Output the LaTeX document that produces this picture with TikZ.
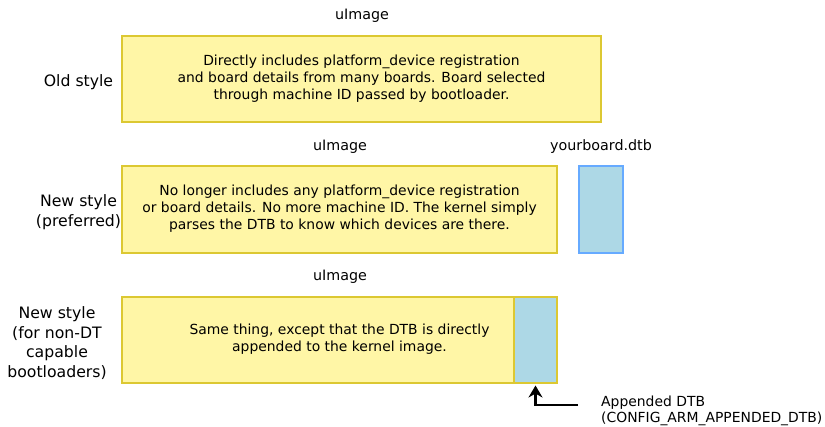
\documentclass[tikz,border=0pt]{standalone}
\usepackage{fontspec}
\setmainfont{DejaVu Sans}
\usetikzlibrary{arrows.meta}
\definecolor{yfill}{HTML}{FFF6A6}
\definecolor{ydraw}{HTML}{DCC832}
\definecolor{bfill}{HTML}{ADD8E6}
\definecolor{bdraw}{HTML}{66AAFF}
\newcommand\boxlines[2][-2pt]{\raisebox{#1}{\begin{tabular}{@{}c@{}}#2\end{tabular}}}
\begin{document}
\begin{tikzpicture}[x=1pt,y=-1pt,
  ybox/.style={draw=ydraw,fill=yfill,line width=2pt,inner sep=0pt,align=center,
    font=\fontsize{13.9}{17}\selectfont},
  bbox/.style={draw=bdraw,fill=bfill,line width=2pt,inner sep=0pt},
  ablue/.style={draw=ydraw,fill=bfill,line width=2pt,inner sep=0pt},
  side/.style={align=center,inner sep=0pt,font=\fontsize{15.7}{19.8}\selectfont},
  captext/.style={inner sep=0pt,font=\fontsize{14.3}{17}\selectfont},
  note/.style={align=left,inner sep=0pt,font=\fontsize{13.9}{16.5}\selectfont},
  conn/.style={line width=2.2pt,-{Stealth[length=12pt,width=14pt,inset=4pt]}}]
\useasboundingbox (0,0) rectangle (825,426);
% captions
\node[captext] (u1) at (362,16) {uImage};
\node[captext] (u2) at (340,147) {uImage};
\node[captext] (dtbname) at (601,147) {yourboard.dtb};
\node[captext] (u3) at (340,277) {uImage};
% side labels
\node[side] (l1) at (78.5,82) {Old style};
\node[side] (l2) at (78.5,212) {New style\\(preferred)};
\node[side] (l3) at (57,343) {New style\\(for non-DT\\capable\\bootloaders)};
% boxes
\node[ybox,minimum width=479pt,minimum height=86pt] (old) at (361.5,79)
  {\boxlines{Directly includes platform\_device registration\\and board details from many boards. Board selected\\through machine ID passed by bootloader.}};
\node[ybox,minimum width=435pt,minimum height=87pt] (pref) at (339.5,209.5)
  {\boxlines{No longer includes any platform\_device registration\\or board details. No more machine ID. The kernel simply\\parses the DTB to know which devices are there.}};
\node[bbox,minimum width=44pt,minimum height=87pt] (dtb) at (601,209.5) {};
\node[ybox,minimum width=435pt,minimum height=86pt] (app) at (339.5,340)
  {\boxlines[-5pt]{Same thing, except that the DTB is directly\\appended to the kernel image.}};
\node[ablue,minimum width=43pt,minimum height=86pt] (appdtb) at (535.5,340) {};
% note and arrow
\node[note,anchor=west] (notetxt) at (601,411) {Appended DTB\\(CONFIG\_ARM\_APPENDED\_DTB)};
\coordinate (nstart) at (578,405);
\draw[conn,shorten >=1.5pt] (nstart) -| (appdtb.south);
\end{tikzpicture}
\end{document}
